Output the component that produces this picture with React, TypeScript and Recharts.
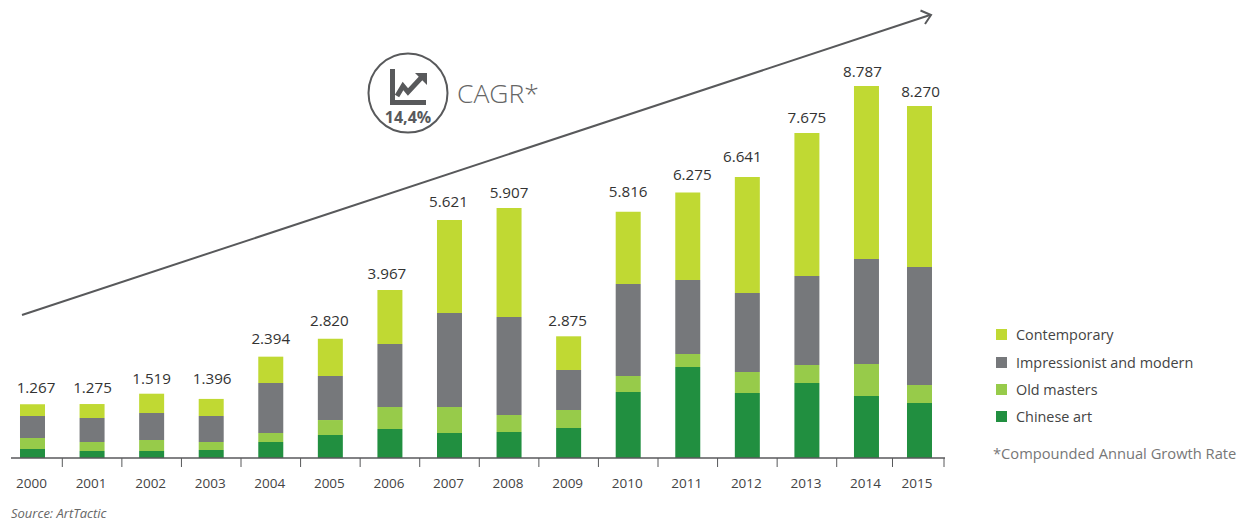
import React from 'react';
import { BarChart, Bar, XAxis, YAxis, LabelList, Legend } from 'recharts';

const years = ['2000', '2001', '2002', '2003', '2004', '2005', '2006', '2007', '2008', '2009', '2010', '2011', '2012', '2013', '2014', '2015'];
// the last bar sits a bit closer to 2014 in the original
const xPositions = [2000, 2001, 2002, 2003, 2004, 2005, 2006, 2007, 2008, 2009, 2010, 2011, 2012, 2013, 2014, 2014.89];
const chineseArt = [213, 165, 165, 189, 378, 543, 685, 591, 614, 709, 1559, 2150, 1536, 1772, 1465, 1299];
const oldMasters = [260, 213, 260, 189, 213, 354, 520, 614, 402, 425, 378, 307, 496, 425, 756, 425];
const impressionist = [520, 567, 638, 614, 1181, 1039, 1488, 2221, 2315, 945, 2173, 1748, 1866, 2102, 2480, 2788];
const contemporary = [274, 330, 456, 404, 622, 884, 1274, 2195, 2576, 796, 1706, 2070, 2743, 3376, 4086, 3805];
const totals = ['1.267', '1.275', '1.519', '1.396', '2.394', '2.820', '3.967', '5.621', '5.907', '2.875', '5.816', '6.275', '6.641', '7.675', '8.787', '8.270'];

// the total labels are hand placed in the original, these are the nudges in px
const labelShiftX = [3.5, 0.5, 0, 1, 0, -1, -3, -1, 0, -1, 0, 4.5, -5, 0, -4, 1];
const labelGap = [16, 16, 15, 20, 18, 18, 16, 18, 15, 15, 20, 17, 20, 15, 14, 14];

const data = years.map((year, i) => ({
  year,
  pos: xPositions[i],
  chinese: chineseArt[i],
  old: oldMasters[i],
  imp: impressionist[i],
  cont: contemporary[i],
  total: totals[i],
}));

const FONT = '"Open Sans", "Noto Sans", sans-serif';
const GREY = '#58595b';

const YearTick = (props: any) => {
  const { x, y, payload, index } = props;
  const markAt = index === 15 ? 24.5 : index === 14 ? 26 : 29.8;
  return (
    <g>
      <line x1={x + markAt} x2={x + markAt} y1={y} y2={y + 9} stroke={GREY} strokeWidth={1} />
      <text x={x - (index === 15 ? 2.5 : 1)} y={y + 30} textAnchor="middle" fontSize={13.5} fontFamily={FONT} fill="#444">
        {years[xPositions.indexOf(payload.value)]}
      </text>
    </g>
  );
};

const TotalLabel = (props: any) => {
  const { x, y, width, index, value } = props;
  return (
    <text x={x + width / 2 + labelShiftX[index]} y={y - labelGap[index] + 5} textAnchor="middle" fontSize={15.2} fontFamily={FONT} fill="#333">
      {value}
    </text>
  );
};

const LegendBox = (props: any) => {
  const items = [...(props.payload || [])].reverse();
  return (
    <div style={{ fontFamily: FONT, fontSize: 14.4, color: '#444' }}>
      {items.map((it: any) => (
        <div key={it.value} style={{ display: 'flex', alignItems: 'center', height: 27.4 }}>
          <span style={{ width: 11, height: 11, background: it.color, marginRight: 9 }} />
          {it.value}
        </div>
      ))}
    </div>
  );
};

export default function App() {
  return (
    <div style={{ position: 'absolute', left: 0, top: 0, width: 1242, height: 522, background: '#fff', overflow: 'hidden' }}>
      <BarChart width={1242} height={522} data={data} margin={{ top: 0, right: 57, bottom: 0, left: 11 }} barSize={25}>
        <XAxis
          dataKey="pos"
          type="number"
          domain={[1999.639, 2015.318]}
          ticks={xPositions}
          height={64}
          interval={0}
          axisLine={{ stroke: GREY, strokeWidth: 1.5 }}
          tickLine={false}
          tickSize={0}
          tickMargin={0}
          tick={<YearTick />}
        />
        <YAxis hide domain={[0, 10820]} />
        <Legend
          layout="vertical"
          align="right"
          verticalAlign="top"
          itemSorter={null}
          content={<LegendBox />}
          wrapperStyle={{ left: 996, top: 321, width: 240, right: 'auto' }}
        />
        <Bar dataKey="chinese" name="Chinese art" stackId="a" fill="#218f40" isAnimationActive={false} />
        <Bar dataKey="old" name="Old masters" stackId="a" fill="#97cb4a" isAnimationActive={false} />
        <Bar dataKey="imp" name="Impressionist and modern" stackId="a" fill="#76787b" isAnimationActive={false} />
        <Bar dataKey="cont" name="Contemporary" stackId="a" fill="#c0d933" isAnimationActive={false}>
          <LabelList dataKey="total" content={<TotalLabel />} />
        </Bar>
      </BarChart>

      <svg width={1242} height={522} style={{ position: 'absolute', left: 0, top: 0, pointerEvents: 'none' }}>
        <line x1={22} y1={315} x2={930} y2={15} stroke={GREY} strokeWidth={2} />
        <polyline points="920.5,10.5 931,15 925,24" fill="none" stroke={GREY} strokeWidth={2} />
        <circle cx={408} cy={93} r={39.5} fill="#fff" stroke={GREY} strokeWidth={2} />
        <polyline points="392.5,69 392.5,102.5 426,102.5" fill="none" stroke={GREY} strokeWidth={5} />
        <polyline points="397,96 403,86 408,92 421,78" fill="none" stroke={GREY} strokeWidth={5} />
        <polygon points="427,73 415,73 427,85" fill={GREY} />
        <text x={408} y={123} textAnchor="middle" fontSize={16} fontWeight={700} fontFamily={FONT} fill={GREY}>14,4%</text>
        <text x={457} y={103} fontSize={26.5} fontWeight={300} fontFamily={FONT} fill="#666">CAGR*</text>
        <text x={993} y={459} fontSize={14.7} fontFamily={FONT} fill="#777">*Compounded Annual Growth Rate</text>
        <text x={11} y={518} fontSize={13} fontStyle="italic" fontFamily={FONT} fill="#666">Source: ArtTactic</text>
      </svg>
    </div>
  );
}
